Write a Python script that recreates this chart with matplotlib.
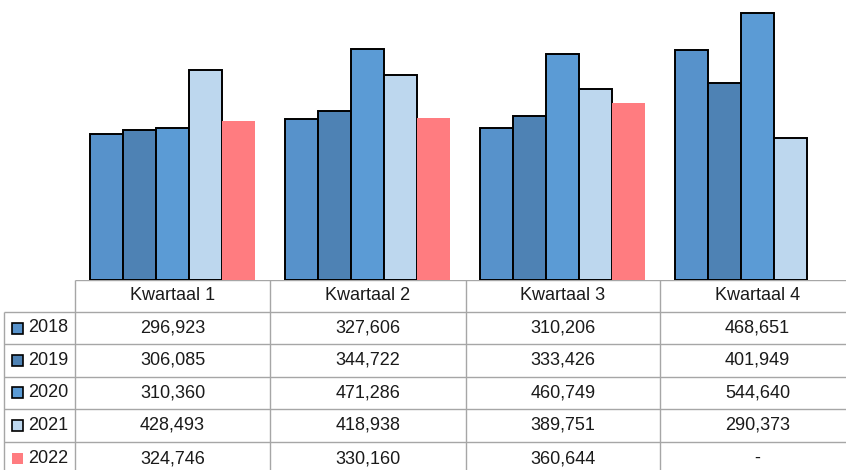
import numpy as np
import matplotlib
matplotlib.use("Agg")
import matplotlib.pyplot as plt
from matplotlib.patches import Rectangle

plt.rcParams["font.family"] = ["Liberation Sans", "DejaVu Sans"]

quarters = ["Kwartaal 1", "Kwartaal 2", "Kwartaal 3", "Kwartaal 4"]
years = ["2018", "2019", "2020", "2021", "2022"]
v2018 = [296923, 327606, 310206, 468651]
v2019 = [306085, 344722, 333426, 401949]
v2020 = [310360, 471286, 460749, 544640]
v2021 = [428493, 418938, 389751, 290373]
v2022 = [324746, 330160, 360644, np.nan]
series = [v2018, v2019, v2020, v2021, v2022]

colors = ["#5792CB", "#4E82B4", "#5B9BD5", "#BDD7EE", "#FF7C80"]
edges = ["black", "black", "black", "black", "none"]

W, H = 846, 470
fig = plt.figure(figsize=(W / 100, H / 100), dpi=100)

# pixel layout
base_y = 280
col_edges = [75, 270, 466, 660, 855]
row_edges = [280, 312, 344, 376.5, 409, 442, 475]
label_left = 4

# bar chart axes, aligned with table columns
ax = fig.add_axes([col_edges[0] / W, (H - base_y) / H,
                   (col_edges[-1] - col_edges[0]) / W, base_y / H])
x = np.arange(len(quarters))
bw = 0.17
for i, (vals, c, ec) in enumerate(zip(series, colors, edges)):
    ax.bar(x + (i - 2) * bw, vals, width=bw, color=c, edgecolor=ec,
           linewidth=1.4 if ec != "none" else 0, zorder=2)
ax.set_xlim(-0.5, len(quarters) - 0.5)
ax.set_ylim(0, 571000)
ax.axis("off")

# data table
tax = fig.add_axes([0, 0, 1, (H - base_y) / H])
tax.set_xlim(0, W)
tax.set_ylim(H, base_y)
tax.axis("off")
gray = "#a6a6a6"

# horizontal lines
tax.hlines(row_edges[0], col_edges[0], col_edges[-1], color=gray, lw=1)
tax.hlines(row_edges[1:], label_left, col_edges[-1], color=gray, lw=1)
# vertical lines
tax.vlines(label_left, row_edges[1], row_edges[-1], color=gray, lw=1)
tax.vlines(col_edges, row_edges[0], row_edges[-1], color=gray, lw=1)

for j, q in enumerate(quarters):
    cx = (col_edges[j] + col_edges[j + 1]) / 2
    tax.text(cx, (row_edges[0] + row_edges[1]) / 2, q, ha="center",
             va="center", fontsize=13, color="#1a1a1a")

for i, (yr, vals) in enumerate(zip(years, series)):
    cy = (row_edges[i + 1] + row_edges[i + 2]) / 2
    tax.add_patch(Rectangle((12, cy - 5.5), 11, 11, facecolor=colors[i],
                            edgecolor="black" if edges[i] != "none" else "none",
                            lw=1.2))
    tax.text(28, cy, yr, ha="left", va="center", fontsize=13, color="#1a1a1a")
    for j, v in enumerate(vals):
        cx = (col_edges[j] + col_edges[j + 1]) / 2
        s = "-" if np.isnan(v) else f"{int(v):,}"
        tax.text(cx, cy, s, ha="center", va="center", fontsize=13,
                 color="#1a1a1a")

fig.savefig("out.png", dpi=100)
